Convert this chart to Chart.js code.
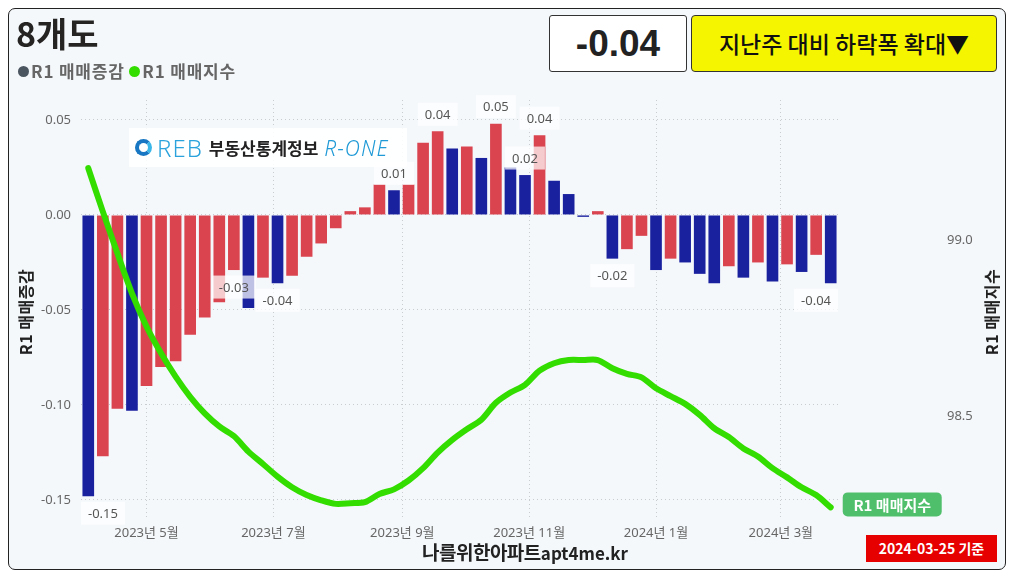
<!DOCTYPE html>
<html>
<head>
<meta charset="utf-8">
<script src="https://cdn.jsdelivr.net/npm/chart.js"></script>
<style>
  html, body { margin: 0; padding: 0; width: 1014px; height: 578px; overflow: hidden; background: #fff;
    font-family: 'Noto Sans CJK KR', 'Noto Sans', sans-serif; }
  .card { position: absolute; left: 8px; top: 8px; width: 998px; height: 562px; box-sizing: border-box;
    border: 1.5px solid #222; border-radius: 7px; background: #f5f8fb; }
  #c { position: absolute; left: 0; top: 0; }
  .title { position: absolute; left: 16px; top: 13px; font-size: 34px; font-weight: 700; color: #252423; line-height: 40px; }
  .legend { position: absolute; left: 18px; top: 59px; font-size: 17px; font-weight: 700; color: #666; line-height: 24px;
    white-space: nowrap; letter-spacing: 0.8px; }
  .legend .dot { display: inline-block; width: 11px; height: 11px; border-radius: 50%; margin-right: 2px; vertical-align: 1px; }
  .valbox { position: absolute; left: 549px; top: 15px; width: 138px; height: 57px; box-sizing: border-box;
    background: #fff; border: 1px solid #333; border-radius: 3px; text-align: center;
    font: bold 37px 'Liberation Sans', Arial, sans-serif; line-height: 55px; color: #222; }
  .yellow { position: absolute; left: 691px; top: 15px; width: 306px; height: 57px; box-sizing: border-box;
    background: #f5f500; border: 1px solid #333; border-radius: 4px; text-align: center;
    font-size: 23px; font-weight: 500; line-height: 55px; color: #111; }
  .logo { position: absolute; left: 129px; top: 128px; width: 278px; height: 39px; background: rgba(255,255,255,0.9);
    display: flex; align-items: center; white-space: nowrap; }
  .logo .ico { width: 17px; height: 17px; border-radius: 50%; margin-left: 6px; box-sizing: border-box;
    border: 4px solid #1877c2; border-right-color: #38b6e8; }
  .logo .reb { margin-left: 5px; font: 300 24px 'Noto Sans', sans-serif; color: #2aa3dc; letter-spacing: 1px; }
  .logo .kr { margin-left: 6px; font-size: 17px; font-weight: 700; color: #222; }
  .logo .rone { margin-left: 6px; font: italic 300 21px 'Noto Sans', sans-serif; color: #1f9ad6; letter-spacing: 1px; }
  .ytitle { position: absolute; width: 120px; height: 20px; line-height: 20px; text-align: center;
    font-size: 16px; font-weight: 700; color: #222; transform: rotate(-90deg); letter-spacing: 0.5px; }
  .footer { position: absolute; left: 330px; width: 390px; top: 538px; text-align: center; font-weight: 700; color: #222; white-space: nowrap; }
  .footer .a { font-size: 19px; letter-spacing: -0.5px; }
  .footer .b { font-size: 17px; }
  .date { position: absolute; left: 866px; top: 535px; width: 131px; height: 27px; background: #e60000;
    color: #fff; font-size: 14px; font-weight: 700; text-align: center; line-height: 27px; }
</style>
</head>
<body>
<div class="card"></div>
<canvas id="c" width="1014" height="578"></canvas>

<div class="title">8개도</div>
<div class="legend"><span class="dot" style="background:#4a5560"></span>R1 매매증감 <span class="dot" style="background:#33dd00"></span>R1 매매지수</div>
<div class="valbox">-0.04</div>
<div class="yellow">지난주 대비 하락폭 확대▼</div>
<div class="logo"><span class="ico"></span><span class="reb">REB</span><span class="kr">부동산통계정보</span><span class="rone">R-ONE</span></div>
<div class="ytitle" style="left:-35px; top:302px;">R1 매매증감</div>
<div class="ytitle" style="left:931px; top:302px;">R1 매매지수</div>
<div class="footer"><span class="a">나를위한아파트</span><span class="b">apt4me.kr</span></div>
<div class="date">2024-03-25 기준</div>

<script>
// weekly dates (Mondays)
const weeks = [
  '2023-04-03','2023-04-10','2023-04-17','2023-04-24','2023-05-01','2023-05-08','2023-05-15','2023-05-22','2023-05-29',
  '2023-06-05','2023-06-12','2023-06-19','2023-06-26','2023-07-03','2023-07-10','2023-07-17','2023-07-24','2023-07-31',
  '2023-08-07','2023-08-14','2023-08-21','2023-08-28','2023-09-04','2023-09-11','2023-09-18','2023-09-25',
  '2023-10-02','2023-10-09','2023-10-16','2023-10-23','2023-10-30','2023-11-06','2023-11-13','2023-11-20','2023-11-27',
  '2023-12-04','2023-12-11','2023-12-18','2023-12-25','2024-01-01','2024-01-08','2024-01-15','2024-01-22','2024-01-29',
  '2024-02-05','2024-02-12','2024-02-19','2024-02-26','2024-03-04','2024-03-11','2024-03-18','2024-03-25'
];

// R1 매매증감 (weekly change)
const change = [
  -0.148, -0.127, -0.102, -0.103, -0.090, -0.080, -0.077, -0.063, -0.054, -0.046,
  -0.029, -0.049, -0.033, -0.036, -0.032, -0.022, -0.015, -0.007, 0.002, 0.004,
  0.016, 0.013, 0.016, 0.038, 0.044, 0.035, 0.036, 0.030, 0.048, 0.025,
  0.021, 0.042, 0.018, 0.011, -0.001, 0.002, -0.023, -0.018, -0.011, -0.029,
  -0.023, -0.025, -0.031, -0.036, -0.027, -0.033, -0.025, -0.035, -0.026, -0.030,
  -0.021, -0.036
];

// R1 매매지수 (index)
const index = [
  99.203, 99.080, 98.962, 98.849, 98.755, 98.679, 98.613, 98.556, 98.509, 98.472,
  98.445, 98.401, 98.366, 98.330, 98.300, 98.278, 98.263, 98.253, 98.255, 98.258,
  98.281, 98.294, 98.319, 98.354, 98.398, 98.434, 98.464, 98.491, 98.539, 98.568,
  98.590, 98.630, 98.651, 98.660, 98.660, 98.660, 98.637, 98.621, 98.611, 98.580,
  98.558, 98.536, 98.505, 98.467, 98.442, 98.410, 98.387, 98.354, 98.328, 98.300,
  98.278, 98.243
];

// bars that carry a value label
const labelIdx = [0, 10, 13, 21, 24, 28, 30, 31, 36, 51];

const tickDates = ['2023-05-01','2023-07-01','2023-09-01','2023-11-01','2024-01-01','2024-03-01'];
const tickLabels = ['2023년 5월','2023년 7월','2023년 9월','2023년 11월','2024년 1월','2024년 3월'];

const day = s => (Date.parse(s) - Date.parse(weeks[0])) / 864e5;
const xDays = weeks.map(day);
const tickDays = tickDates.map(day);

// red when up vs previous week, blue when down
const barColors = change.map((v, i) => (i > 0 && v > change[i - 1]) ? '#d9444f' : '#1a219f');

const gridColor = '#c9cdd2';
const tickFont = { family: "'Noto Sans', 'Noto Sans CJK KR', sans-serif", size: 13 };

const labelPlugin = {
  id: 'labels',
  afterDatasetsDraw(chart) {
    const { ctx, chartArea } = chart;
    const bars = chart.getDatasetMeta(1).data;
    ctx.save();
    ctx.font = "13px 'Noto Sans', sans-serif";
    ctx.textAlign = 'center';
    ctx.textBaseline = 'middle';
    labelIdx.forEach(i => {
      const b = bars[i];
      const v = change[i];
      const txt = v.toFixed(2);
      const w = ctx.measureText(txt).width + 14, h = 23;
      const cx = Math.min(Math.max(b.x, chartArea.left + w / 2), chartArea.right - w / 2);
      const cy = v < 0 ? b.y + 17 : b.y - 17;
      ctx.fillStyle = 'rgba(255,255,255,0.72)';
      ctx.fillRect(cx - w / 2, cy - h / 2, w, h);
      ctx.fillStyle = '#555';
      ctx.fillText(txt, cx, cy + 1);
    });

    // end label of the index line
    const pts = chart.getDatasetMeta(0).data;
    const p = pts[pts.length - 1];
    const lx = p.x + 12, ly = p.y - 15, lw = 99, lh = 24;
    ctx.fillStyle = '#4fbf6c';
    ctx.beginPath();
    ctx.roundRect(lx, ly, lw, lh, 5);
    ctx.fill();
    ctx.fillStyle = '#fff';
    ctx.font = "bold 15px 'Noto Sans CJK KR', sans-serif";
    ctx.fillText(chart.data.datasets[0].label, lx + lw / 2, ly + lh / 2 + 1);
    ctx.restore();
  }
};

new Chart(document.getElementById('c'), {
  type: 'bar',
  data: {
    datasets: [
      {
        type: 'line',
        label: 'R1 매매지수',
        data: xDays.map((x, i) => ({ x: x, y: index[i] })),
        yAxisID: 'y1',
        borderColor: '#33dd00',
        borderWidth: 6,
        pointRadius: 0,
        tension: 0.3,
        borderCapStyle: 'round',
        borderJoinStyle: 'round',
        order: 0
      },
      {
        type: 'bar',
        label: 'R1 매매증감',
        data: xDays.map((x, i) => ({ x: x, y: change[i] })),
        yAxisID: 'y',
        backgroundColor: barColors,
        barPercentage: 0.8,
        categoryPercentage: 1.0,
        order: 1
      }
    ]
  },
  options: {
    responsive: false,
    animation: false,
    layout: { padding: { top: 100 } },
    plugins: { legend: { display: false }, tooltip: { enabled: false } },
    scales: {
      x: {
        type: 'linear',
        min: -3.5,
        max: 360.5,
        offset: false,
        grid: { offset: false, color: gridColor, drawTicks: false },
        border: { display: false, dash: [1, 3] },
        ticks: {
          padding: 7, color: '#666', font: tickFont, maxRotation: 0, autoSkip: false,
          callback: v => { const k = tickDays.indexOf(v); return k >= 0 ? tickLabels[k] : ''; }
        },
        afterBuildTicks: s => { s.ticks = tickDays.map(v => ({ value: v })); },
        afterFit: s => { s.height = 60; s.paddingLeft = 0; s.paddingRight = 0; }
      },
      y: {
        position: 'left',
        min: -0.1595,
        max: 0.0605,
        grid: { color: gridColor, drawTicks: false },
        border: { display: false, dash: [1, 3] },
        ticks: { stepSize: 0.05, includeBounds: false, padding: 10, color: '#666', font: tickFont,
          callback: v => v.toFixed(2) },
        afterFit: s => { s.width = 81; s.paddingTop = 0; s.paddingBottom = 0; }
      },
      y1: {
        position: 'right',
        min: 98.213,
        max: 99.396,
        grid: { drawOnChartArea: false, drawTicks: false },
        border: { display: false },
        ticks: { stepSize: 0.5, includeBounds: false, padding: 109, color: '#666', font: tickFont,
          callback: v => v.toFixed(1) },
        afterFit: s => { s.width = 176; s.paddingTop = 0; s.paddingBottom = 0; }
      }
    }
  },
  plugins: [labelPlugin]
});
</script>
</body>
</html>
